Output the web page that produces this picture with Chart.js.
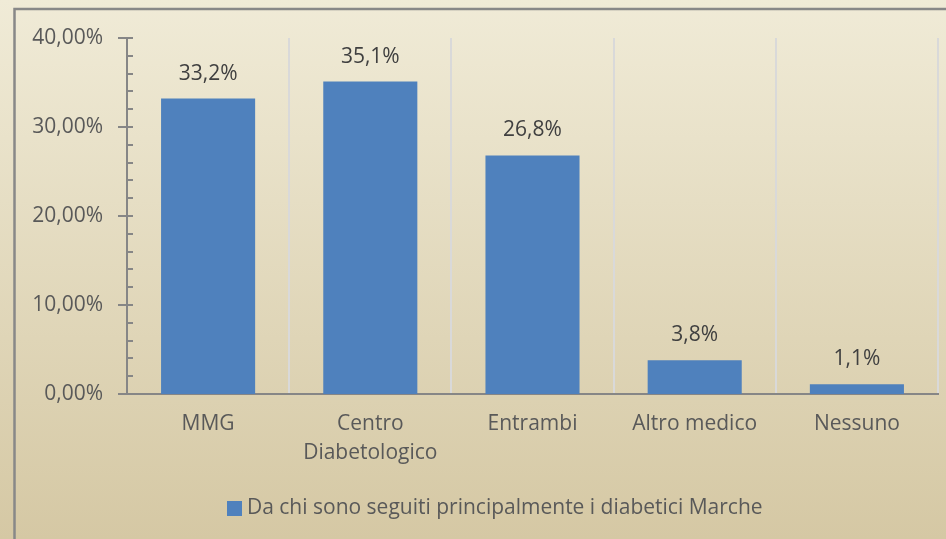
<!DOCTYPE html>
<html><head><meta charset="utf-8">
<script src="https://cdn.jsdelivr.net/npm/chart.js@4"></script>
<style>html,body{margin:0;padding:0;overflow:hidden;background:#e4dab9}#wrap{width:946px;height:539px;position:relative}</style>
</head><body><div id="wrap"><canvas id="c" width="946" height="539"></canvas></div>
<script>
const categories = [['MMG'], ['Centro', 'Diabetologico'], ['Entrambi'], ['Altro medico'], ['Nessuno']];
const values = [33.2, 35.1, 26.8, 3.8, 1.1];
const valueLabels = ['33,2%', '35,1%', '26,8%', '3,8%', '1,1%'];
const seriesName = 'Da chi sono seguiti principalmente i diabetici Marche';
const yTickValues = [0, 10, 20, 30, 40];
const yTickLabels = ['0,00%', '10,00%', '20,00%', '30,00%', '40,00%'];

const FONT = "'Open Sans', 'Noto Sans', sans-serif";
const AXIS = '#868686';
const BAR = '#4f81bd';

const bgPlugin = {
  id: 'bg',
  beforeDraw(chart) {
    const ctx = chart.ctx;
    const g = ctx.createLinearGradient(0, 0, 0, chart.height);
    g.addColorStop(0, '#f0ebd7');
    g.addColorStop(1, '#d5c8a4');
    ctx.save();
    ctx.fillStyle = g;
    ctx.fillRect(0, 0, chart.width, chart.height);
    ctx.strokeStyle = '#888888';
    ctx.lineWidth = 2.5;
    ctx.strokeRect(14.5, 9, 2000, 2000);
    ctx.restore();
  }
};

const legendShift = {
  id: 'legendShift',
  afterLayout(chart) {
    chart.legend.left += 23;
    chart.legend.right += 23;
  },
  afterDraw(chart) {
    const hb = chart.legend.legendHitBoxes[0];
    if (!hb) return;
    const ctx = chart.ctx;
    ctx.save();
    ctx.fillStyle = BAR;
    ctx.fillRect(Math.round(hb.left + 5.5), Math.round(hb.top + hb.height / 2 - 7.5), 15, 15);
    ctx.restore();
  }
};

const ticksPlugin = {
  id: 'yticks',
  afterDatasetsDraw(chart) {
    const ctx = chart.ctx;
    const y = chart.scales.y;
    const ax = chart.chartArea.left;
    ctx.save();
    ctx.strokeStyle = AXIS;
    ctx.lineWidth = 2;
    for (let v = 0; v <= 40; v += 2) {
      const py = Math.round(y.getPixelForValue(v));
      const major = v % 10 === 0;
      ctx.beginPath();
      ctx.moveTo(major ? ax - 9 : ax, py);
      ctx.lineTo(ax + 6, py);
      ctx.stroke();
    }
    const meta = chart.getDatasetMeta(0);
    ctx.fillStyle = '#404040';
    ctx.font = "21px " + FONT;
    ctx.textAlign = 'center';
    ctx.textBaseline = 'middle';
    meta.data.forEach((bar, i) => {
      ctx.fillText(valueLabels[i], bar.x, bar.y - 25);
    });
    ctx.restore();
  }
};

new Chart(document.getElementById('c'), {
  type: 'bar',
  data: {
    labels: categories,
    datasets: [{
      label: seriesName,
      data: values,
      backgroundColor: BAR,
      borderColor: BAR,
      borderWidth: 0,
      barPercentage: 0.58,
      categoryPercentage: 1
    }]
  },
  options: {
    responsive: false,
    animation: false,
    devicePixelRatio: 1,
    layout: { padding: { left: 0, right: 8, top: 38, bottom: 10 } },
    plugins: {
      tooltip: { enabled: false },
      legend: {
        position: 'bottom',
        labels: {
          boxWidth: 15, boxHeight: 15, padding: 10,
          color: '#595959',
          font: { family: FONT, size: 21 },
          generateLabels(chart) {
            const items = Chart.defaults.plugins.legend.labels.generateLabels(chart);
            items.forEach(it => { it.fillStyle = 'rgba(0,0,0,0)'; it.strokeStyle = 'rgba(0,0,0,0)'; it.lineWidth = 0; });
            return items;
          }
        }
      }
    },
    scales: {
      x: {
        grid: { display: true, offset: true, color: '#d9d9d9', lineWidth: 2, drawTicks: false },
        border: { display: true, color: AXIS, width: 2 },
        ticks: { color: '#595959', font: { family: FONT, size: 21, lineHeight: 1.35 }, padding: 16, maxRotation: 0, autoSkip: false },
        afterFit(s) { s.height = 94; }
      },
      y: {
        min: 0, max: 40,
        afterBuildTicks(s) { s.ticks = yTickValues.map(v => ({ value: v })); },
        grid: { display: false, drawTicks: false },
        border: { display: true, color: AXIS, width: 2 },
        ticks: {
          color: '#595959',
          font: { family: FONT, size: 21 },
          padding: 24,
          callback: (v) => yTickLabels[yTickValues.indexOf(v)]
        },
        afterFit(s) { s.width = 127; }
      }
    }
  },
  plugins: [bgPlugin, legendShift, ticksPlugin]
});
</script>
</body></html>
